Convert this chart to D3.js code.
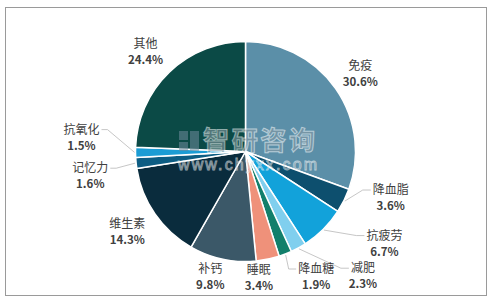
<!DOCTYPE html>
<html>
<head>
<meta charset="utf-8">
<script src="https://cdn.jsdelivr.net/npm/d3@7"></script>
<style>
  html, body { margin: 0; padding: 0; background: #fff; }
  svg { display: block; font-family: "Noto Sans CJK SC", "Noto Sans", sans-serif; }
</style>
</head>
<body>
<div id="chart"></div>
<script>
// data
const categories = ['免疫', '降血脂', '抗疲劳', '减肥', '降血糖', '睡眠', '补钙', '维生素', '记忆力', '抗氧化', '其他'];
const values = [30.6, 3.6, 6.7, 2.3, 1.9, 3.4, 9.8, 14.3, 1.6, 1.5, 24.4];
const colors = ['#5b8fa8', '#0d4f6e', '#12a2da', '#80cfee', '#127f6b', '#ef917a', '#3b5868', '#0a2c3d', '#0d5d83', '#1b9cd4', '#0b4a46'];

// label nudges (px) from the default label ring, and which labels get a leader line
const labelNudge = {
    '免疫': [0, 2], '降血脂': [20, -17], '抗疲劳': [40, -8], '减肥': [50, 1],
    '降血糖': [20, -6], '睡眠': [-15, -12], '补钙': [-6, -12], '维生素': [-3, 0],
    '记忆力': [-16, 9], '抗氧化': [-24, -16], '其他': [-3, 0]
};
const leaders = ['降血脂', '抗疲劳', '减肥', '降血糖', '记忆力', '抗氧化'];

const W = 493, H = 301;
const cx = 245.5, cy = 151.5, radius = 110, labelR = 140;

let svg = d3.select('#chart').append('svg')
    .attr('width', W)
    .attr('height', H);

// frame
svg.append('rect')
    .attr('x', 5.5).attr('y', 7.5)
    .attr('width', 481).attr('height', 288)
    .attr('fill', '#fff')
    .attr('stroke', '#9a9a9a')
    .attr('stroke-width', 1);

let data = categories.map((c, i) => ({ name: c, value: values[i], color: colors[i] }));

let pie = d3.pie().sort(null).value(d => d.value);
let arc = d3.arc().innerRadius(0).outerRadius(radius);
let arcs = pie(data);

let g = svg.append('g').attr('transform', `translate(${cx},${cy})`);

g.selectAll('path.slice')
    .data(arcs)
    .enter()
    .append('path')
        .attr('class', 'slice')
        .attr('d', arc)
        .attr('fill', d => d.data.color)
        .attr('stroke', '#fff')
        .attr('stroke-width', 1.5)
        .attr('stroke-linejoin', 'round');

const mid = d => (d.startAngle + d.endAngle) / 2;
const polar = (a, r) => [r * Math.sin(a), -r * Math.cos(a)];

// labels
let labels = g.append('g');
arcs.forEach(d => {
    let [x, y] = polar(mid(d), labelR);
    let nudge = labelNudge[d.data.name];
    x += nudge[0]; y += nudge[1];

    let t = labels.append('text')
        .attr('text-anchor', 'middle')
        .attr('fill', '#404040')
        .style('font-size', '12px');
    t.append('tspan').attr('x', x).attr('y', y - 3).text(d.data.name);
    t.append('tspan').attr('x', x).attr('y', y + 13)
        .style('font-weight', 'bold').style('font-size', '11.5px')
        .text(d.data.value.toFixed(1) + '%');

    if (leaders.includes(d.data.name)) {
        let w = t.select('tspan').node().getComputedTextLength();
        let [sx, sy] = polar(mid(d), radius + 1);
        let right = x > 0 && sx > 0 && (x - w / 2) > sx;
        let ex = right ? x - w / 2 - 2 : x + w / 2 + 2;
        let ey = y - 7;
        let bx = right ? ex - 8 : ex + 6;
        let pts = [[sx, sy], [bx, ey], [ex, ey]];
        // 降血糖 leader drops straight down before turning right
        if (d.data.name === '降血糖') pts = [[sx, sy], [sx + 3, ey], [ex, ey]];
        labels.insert('polyline', 'text')
            .attr('points', pts.map(p => p.join(',')).join(' '))
            .attr('fill', 'none')
            .attr('stroke', '#b8b8b8')
            .attr('stroke-width', 0.8);
    }
});

// watermark
let wm = svg.append('g').attr('opacity', 0.55);
wm.append('rect').attr('x', 179).attr('y', 131).attr('width', 9).attr('height', 9).attr('fill', '#6f8a9c');
wm.append('rect').attr('x', 190).attr('y', 131).attr('width', 9).attr('height', 20).attr('fill', '#6f8a9c');
wm.append('rect').attr('x', 179).attr('y', 142).attr('width', 9).attr('height', 9).attr('fill', '#6f8a9c');
wm.append('text')
    .attr('x', 203).attr('y', 150)
    .attr('fill', '#8c9aa3')
    .attr('stroke', '#fff').attr('stroke-width', 1)
    .style('font-size', '26px').style('font-weight', 'bold')
    .attr('textLength', 112)
    .text('智研咨询');
wm.append('text')
    .attr('x', 178).attr('y', 170)
    .attr('fill', '#8c9aa3')
    .attr('stroke', '#fff').attr('stroke-width', 0.8)
    .style('font-size', '16px').style('font-family', 'Arial, "Liberation Sans", sans-serif')
    .attr('textLength', 139)
    .text('www.chyxx.com');
</script>
</body>
</html>
